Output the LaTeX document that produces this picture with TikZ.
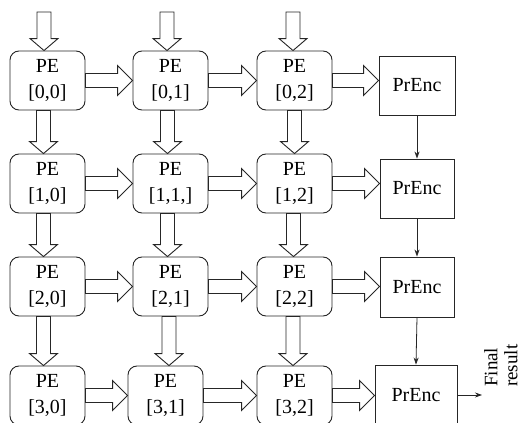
\documentclass[tikz,border=0pt]{standalone}
\usepackage{fontspec}
\setmainfont{Liberation Serif}
\usetikzlibrary{calc,arrows.meta}
\begin{document}
\begin{tikzpicture}[x=1pt,y=-1pt,
  every node/.style={font=\fontsize{20}{26}\selectfont},
  pe/.style={draw=black!85,line width=0.9pt,rounded corners=9pt,
    minimum width=75pt,minimum height=59pt,inner sep=0pt,align=center},
  enc/.style={draw=black!85,line width=0.9pt,minimum width=75pt,
    minimum height=59pt,inner sep=0pt},
  % hollow block arrow pointing right
  harrow/.style={draw=black!85,line width=0.9pt,
    to path={let \p1=(\tikztostart),\p2=(\tikztotarget) in
      (\x1,\y1+7pt) -- (\x2-15pt,\y1+7pt) -- (\x2-15pt,\y1+15pt) -- (\x2,\y1)
      -- (\x2-15pt,\y1-15pt) -- (\x2-15pt,\y1-7pt) -- (\x1,\y1-7pt) -- cycle}},
  % hollow block arrow pointing down
  varrow/.style={draw=black!85,line width=0.9pt,
    to path={let \p1=(\tikztostart),\p2=(\tikztotarget) in
      (\x1-7pt,\y1) -- (\x1-7pt,\y2+12pt) -- (\x1-14pt,\y2+12pt) -- (\x1,\y2)
      -- (\x1+14pt,\y2+12pt) -- (\x1+7pt,\y2+12pt) -- (\x1+7pt,\y1) -- cycle}},
  link/.style={draw=black!85,line width=0.8pt,-{Stealth[length=7pt,width=5pt]}}
]
\useasboundingbox (0,0) rectangle (523,423);

% processing elements
\node[pe] (p00) at (47.5,80.5)  {PE\\{}[0,0]};
\node[pe] (p01) at (170.5,80.5) {PE\\{}[0,1]};
\node[pe] (p02) at (294.5,80.5) {PE\\{}[0,2]};
\node[pe] (p10) at (47.5,183.5)  {PE\\{}[1,0]};
\node[pe] (p11) at (170.5,183.5) {PE\\{}[1,1,]};
\node[pe] (p12) at (294.5,183.5) {PE\\{}[1,2]};
\node[pe] (p20) at (47.5,286.5)  {PE\\{}[2,0]};
\node[pe] (p21) at (170.5,286.5) {PE\\{}[2,1]};
\node[pe] (p22) at (294.5,286.5) {PE\\{}[2,2]};
\node[pe] (p30) at (47.5,395.5)  {PE\\{}[3,0]};
\node[pe] (p31) at (165.5,395.5) {PE\\{}[3,1]};
\node[pe] (p32) at (294.5,395.5) {PE\\{}[3,2]};

% priority encoders
\node[enc,minimum width=76pt] (e0) at (417,85.5)  {PrEnc};
\node[enc,minimum width=74pt] (e1) at (417,188.5) {PrEnc};
\node[enc,minimum width=74pt,minimum height=60pt] (e2) at (417,287) {PrEnc};
\node[enc,minimum width=82pt,minimum height=60pt] (e3) at (416,395) {PrEnc};

% column inputs
\coordinate (in0) at (44,12);
\coordinate (in1) at (167,12);
\coordinate (in2) at (293,12);
\draw[varrow] (in0) to (p00.north);
\draw[varrow] (in1) to (p01.north);
\draw[varrow] (in2) to (p02.north);

% vertical data flow
\draw[varrow] ([xshift=-4pt]p00.south) to (p10.north);
\draw[varrow] ([xshift=-3pt]p01.south) to (p11.north);
\draw[varrow] ([xshift=0pt]p02.south) to (p12.north);
\draw[varrow] ([xshift=-4pt]p10.south) to (p20.north);
\draw[varrow] ([xshift=-3pt]p11.south) to (p21.north);
\draw[varrow] ([xshift=-1pt]p12.south) to (p22.north);
\draw[varrow] ([xshift=-4pt]p20.south) to (p30.north);
\draw[varrow] ([xshift=-1.5pt]p21.south) to (p31.north);
\draw[varrow] ([xshift=-1.5pt]p22.south) to (p32.north);

% horizontal data flow
\draw[harrow] (p00.east) to (p01.west);
\draw[harrow] (p01.east) to (p02.west);
\draw[harrow] (p02.east) to (e0.west);
\draw[harrow] (p10.east) to (p11.west);
\draw[harrow] (p11.east) to (p12.west);
\draw[harrow] (p12.east) to (e1.west);
\draw[harrow] (p20.east) to (p21.west);
\draw[harrow] (p21.east) to (p22.west);
\draw[harrow] (p22.east) to (e2.west);
\draw[harrow] (p30.east) to (p31.west);
\draw[harrow] (p31.east) to (p32.west);
\draw[harrow] (p32.east) to (e3.west);

% encoder chain
\draw[link] (e0.south) -- (e1.north);
\draw[link] (e1.south) -- (e2.north);
\draw[link] (e2.south) -- (e3.north);

% output
\coordinate (out) at (482,395);
\draw[link] (e3.east) -- (out);
\node[rotate=90,anchor=north west,align=left,inner sep=0pt,
  font=\fontsize{19}{20}\selectfont] (res) at (484,387) {Final\\result};
\end{tikzpicture}
\end{document}
